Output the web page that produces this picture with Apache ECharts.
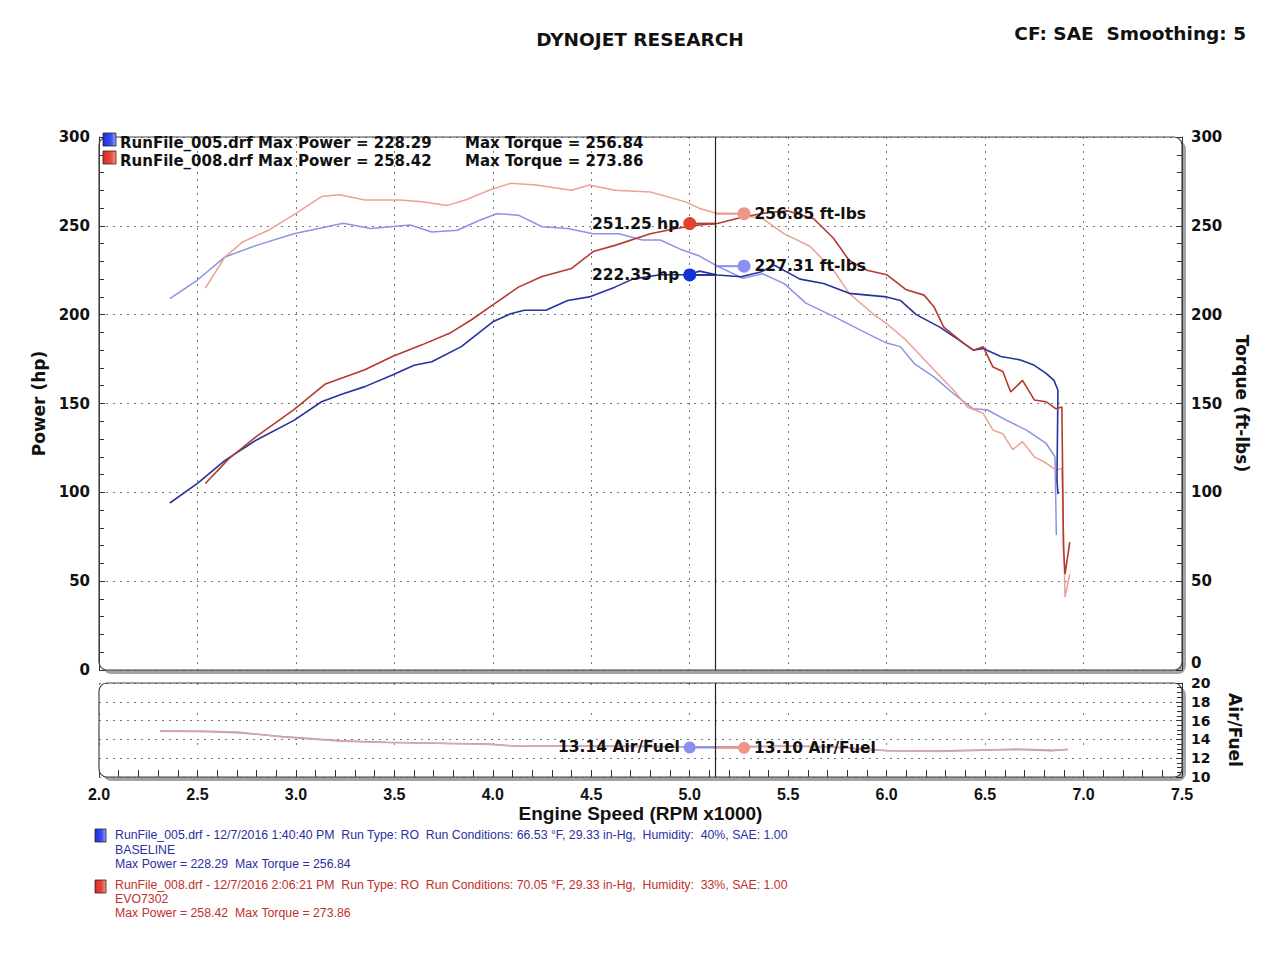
<!DOCTYPE html>
<html>
<head>
<meta charset="utf-8">
<script src="https://cdn.jsdelivr.net/npm/echarts@6/dist/echarts.min.js"></script>
<style>html,body{margin:0;padding:0;background:#fff}#c{width:1280px;height:960px}</style>
</head>
<body>
<div id="c"></div>
<script>
// ---------- DATA ----------
const xTicks = [2.0, 2.5, 3.0, 3.5, 4.0, 4.5, 5.0, 5.5, 6.0, 6.5, 7.0, 7.5];
const cursorRpm = 5.134;

// BASELINE (RunFile_005) power, hp
const basePowerRpm = [2.36, 2.50, 2.64, 2.80, 2.99, 3.13, 3.24, 3.35, 3.49, 3.60, 3.69, 3.84, 4.00, 4.09, 4.16, 4.27, 4.38, 4.49, 4.62, 4.71, 4.85, 4.99, 5.05, 5.14, 5.26, 5.36, 5.43, 5.56, 5.68, 5.81, 6.00, 6.07, 6.15, 6.27, 6.37, 6.44, 6.49, 6.58, 6.68, 6.75, 6.81, 6.85, 6.87, 6.865, 6.87];
const basePowerHp  = [94, 105, 118, 129.5, 140.5, 151, 155.5, 159.5, 166, 171.5, 173.5, 182, 196, 200.5, 202.5, 202.5, 208, 210, 215.5, 220, 222.5, 222.5, 224.5, 222.3, 221.3, 224, 227.8, 220, 217.5, 212, 210, 208, 200, 193, 185.5, 180, 181, 176.5, 174.5, 171.5, 167, 163, 157.5, 107, 99];

// BASELINE torque, ft-lbs
const baseTorqueRpm = [2.36, 2.50, 2.64, 2.80, 2.99, 3.24, 3.38, 3.58, 3.69, 3.82, 3.93, 4.02, 4.13, 4.25, 4.38, 4.51, 4.64, 4.76, 4.85, 4.96, 5.05, 5.14, 5.27, 5.37, 5.48, 5.59, 5.73, 5.90, 6.00, 6.07, 6.14, 6.24, 6.34, 6.44, 6.51, 6.61, 6.71, 6.81, 6.855, 6.862];
const baseTorque    = [209, 219.5, 232.5, 239, 245.5, 251.5, 248.5, 250.5, 246.5, 247.5, 253, 256.8, 256, 249.5, 248.5, 245.5, 245.5, 242, 242, 236.5, 233, 227.3, 220.5, 223, 217.5, 206.5, 199, 189.5, 184, 182, 172.5, 165, 155.5, 147, 146.5, 140.5, 135, 127.5, 120, 76];

// EVO7302 (RunFile_008) power, hp
const evoPowerRpm = [2.54, 2.66, 2.80, 2.99, 3.15, 3.35, 3.49, 3.64, 3.78, 3.89, 4.00, 4.13, 4.25, 4.40, 4.51, 4.62, 4.80, 4.93, 5.05, 5.14, 5.27, 5.40, 5.50, 5.63, 5.73, 5.81, 5.90, 6.00, 6.10, 6.19, 6.24, 6.29, 6.39, 6.44, 6.49, 6.54, 6.59, 6.63, 6.69, 6.75, 6.81, 6.86, 6.89, 6.898, 6.906, 6.93];
const evoPowerHp  = [105, 119, 131.5, 146.5, 161, 169, 176.5, 183, 189.5, 197, 205.5, 215.5, 221.5, 226, 235.5, 239, 245.5, 248.5, 250.5, 251.3, 255, 257.5, 258.4, 254, 243, 230.5, 225, 222.5, 214, 211, 204.5, 193, 184, 180, 182, 170.5, 168, 156.5, 163, 152, 151, 147, 148, 69, 54, 72];

// EVO7302 torque, ft-lbs
const evoTorqueRpm = [2.54, 2.64, 2.73, 2.86, 3.00, 3.13, 3.22, 3.35, 3.53, 3.64, 3.77, 3.86, 3.98, 4.09, 4.22, 4.40, 4.49, 4.62, 4.80, 4.98, 5.05, 5.14, 5.22, 5.37, 5.48, 5.61, 5.73, 5.81, 5.93, 6.00, 6.10, 6.24, 6.34, 6.41, 6.49, 6.54, 6.59, 6.64, 6.69, 6.75, 6.81, 6.86, 6.89, 6.906, 6.93];
const evoTorque    = [215, 232.5, 241, 247.5, 257, 266.5, 267.5, 264.5, 264.5, 263.5, 261.5, 264.5, 270, 273.9, 273, 270, 273, 270, 269, 263.5, 259.8, 256.9, 257, 254, 245.5, 238.5, 225, 212, 200.5, 195, 185.5, 169, 157.5, 148, 144.5, 135, 133, 124, 128.5, 120, 116.5, 112.5, 113.5, 41, 54];

// Air/Fuel
const afRpm  = [2.31, 2.52, 2.71, 2.93, 3.23, 3.46, 3.72, 3.98, 4.12, 4.40, 4.66, 4.96, 5.22, 5.52, 5.71, 5.94, 6.01, 6.27, 6.46, 6.65, 6.84, 6.92];
const baseAf = [14.88, 14.85, 14.72, 14.30, 13.85, 13.70, 13.58, 13.50, 13.28, 13.30, 13.30, 13.22, 13.22, 13.30, 13.22, 12.88, 12.78, 12.76, 12.86, 12.92, 12.80, 12.95];
const evoAf  = [14.90, 14.90, 14.78, 14.25, 13.80, 13.68, 13.60, 13.45, 13.30, 13.28, 13.25, 13.18, 13.15, 13.28, 13.20, 12.90, 12.80, 12.72, 12.82, 12.98, 12.88, 12.90];

// cursor readouts
const hpMarkRpm = 5.0, tqMarkRpm = 5.276;
const readHp = [251.25, 222.35];        // EVO, BASELINE
const readTq = [256.85, 227.31];        // EVO, BASELINE
const readAf = [13.14, 13.10];          // BASELINE, EVO

const topLegend = [
  ["RunFile_005.drf Max Power = 228.29", "Max Torque = 256.84"],
  ["RunFile_008.drf Max Power = 258.42", "Max Torque = 273.86"]
];
const runInfo = [
  ["RunFile_005.drf - 12/7/2016 1:40:40 PM  Run Type: RO  Run Conditions: 66.53 \u00B0F, 29.33 in-Hg,  Humidity:  40%, SAE: 1.00", "BASELINE", "Max Power = 228.29  Max Torque = 256.84"],
  ["RunFile_008.drf - 12/7/2016 2:06:21 PM  Run Type: RO  Run Conditions: 70.05 \u00B0F, 29.33 in-Hg,  Humidity:  33%, SAE: 1.00", "EVO7302", "Max Power = 258.42  Max Torque = 273.86"]
];

// ---------- CHART ----------
const zip = (a, b) => a.map((v, i) => [v, b[i]]);
const F = 'DejaVu Sans';
const C = {
  bluePow: '#26329e', blueTq: '#8e92e4', redPow: '#b53a2e', redTq: '#eba196',
  blueDot: '#1030d8', blueDotL: '#8a90f0', redDot: '#e2412f', redDotL: '#f0958a'
};
const dotted = { color: '#777', type: [2, 5], width: 1 };

const chart = echarts.init(document.getElementById('c'), null, { renderer: 'svg' });

function line(name, x, y, color, xi, yi, w) {
  return { name, type: 'line', xAxisIndex: xi, yAxisIndex: yi, data: zip(x, y), showSymbol: false, symbol: 'none',
    lineStyle: { color, width: w || 1.6 }, itemStyle: { color }, silent: true, animation: false, z: 3 };
}
function conn(x0, x1, v, color, xi, yi) {
  return { type: 'line', xAxisIndex: xi, yAxisIndex: yi, data: [[x0, v], [x1, v]], symbol: 'none',
    lineStyle: { color, width: 2 }, silent: true, animation: false, z: 4 };
}
function dot(x, v, color, label, pos, yi, xi, size) {
  return { type: 'scatter', xAxisIndex: xi, yAxisIndex: yi, data: [[x, v]], symbolSize: size || 13,
    itemStyle: { color, opacity: 1 }, silent: true, animation: false, z: 6,
    label: { show: true, position: pos, distance: 4, formatter: label, color: '#111',
      fontFamily: F, fontWeight: 'bold', fontSize: 15.5 } };
}

const cursorML = { silent: true, symbol: 'none', animation: false, label: { show: false },
  lineStyle: { color: '#222', type: 'solid', width: 1.2 }, data: [{ xAxis: cursorRpm }] };

const bp = line('BASELINE hp', basePowerRpm, basePowerHp, C.bluePow, 0, 0);
bp.markLine = cursorML;
const afB = line('BASELINE AF', afRpm, baseAf, '#9496dc', 1, 2, 1.5);
afB.markLine = cursorML;

const xCommon = { type: 'value', min: 2, max: 7.5, interval: 0.5 };
const leftW = 99, rightX = 1182, W = rightX - leftW;
const infoFont = '12.3px "Liberation Sans"';

chart.setOption({
  backgroundColor: '#fff',
  animation: false,
  title: [
    { text: 'DYNOJET RESEARCH', left: 'center', top: 25, textStyle: { fontFamily: F, fontWeight: 'bold', fontSize: 18.5, color: '#111' } },
    { text: 'CF: SAE  Smoothing: 5', right: 29, top: 19, textStyle: { fontFamily: F, fontWeight: 'bold', fontSize: 18.5, color: '#111' } }
  ],
  grid: [
    { left: leftW, right: 1280 - rightX, top: 137, height: 533 },
    { left: leftW, right: 1280 - rightX, top: 683, height: 94 }
  ],
  xAxis: [
    Object.assign({}, xCommon, { gridIndex: 0, axisLabel: { show: false }, axisLine: { show: false }, axisTick: { show: false },
      splitLine: { show: true, lineStyle: dotted } }),
    Object.assign({}, xCommon, { gridIndex: 1,
      axisLine: { show: false },
      axisTick: { show: true, inside: true, length: 7, lineStyle: { color: '#333' } },
      minorTick: { show: true, splitNumber: 5, length: 7, lineStyle: { color: '#333' } },
      axisLabel: { formatter: v => v.toFixed(1), margin: 9, fontFamily: 'Liberation Sans', fontWeight: 'bold', fontSize: 16, color: '#111' },
      splitLine: { show: true, lineStyle: { color: '#777', type: [2, 28], width: 1 } },
      name: 'Engine Speed (RPM x1000)', nameLocation: 'middle', nameGap: 27,
      nameTextStyle: { fontFamily: 'Liberation Sans', fontWeight: 'bold', fontSize: 19, color: '#111' } })
  ],
  yAxis: [
    { type: 'value', gridIndex: 0, min: 0, max: 300, interval: 50, position: 'left',
      axisLine: { show: true, lineStyle: { color: '#333' } },
      axisTick: { show: true, inside: true, length: 6, lineStyle: { color: '#333' } },
      minorTick: { show: true, splitNumber: 5, length: 5, lineStyle: { color: '#333' } },
      axisLabel: { margin: 9, fontFamily: F, fontWeight: 'bold', fontSize: 15, color: '#111' },
      splitLine: { show: true, lineStyle: dotted },
      name: 'Power (hp)', nameLocation: 'middle', nameGap: 47, nameRotate: 90,
      nameTextStyle: { fontFamily: F, fontWeight: 'bold', fontSize: 17, color: '#111' } },
    { type: 'value', gridIndex: 0, min: 0, max: 300, interval: 50, position: 'right',
      axisLine: { show: true, lineStyle: { color: '#333' } },
      axisTick: { show: true, inside: true, length: 6, lineStyle: { color: '#333' } },
      minorTick: { show: true, splitNumber: 5, length: 5, lineStyle: { color: '#333' } },
      axisLabel: { margin: 9, fontFamily: F, fontWeight: 'bold', fontSize: 15, color: '#111', verticalAlignMinLabel: 'bottom' },
      splitLine: { show: false },
      name: 'Torque (ft-lbs)', nameLocation: 'middle', nameGap: 44, nameRotate: -90,
      nameTextStyle: { fontFamily: F, fontWeight: 'bold', fontSize: 17, color: '#111' } },
    { type: 'value', gridIndex: 1, min: 10, max: 20, interval: 2, position: 'left',
      axisLine: { show: false }, axisTick: { show: false }, axisLabel: { show: false },
      splitLine: { show: true, lineStyle: dotted } },
    { type: 'value', gridIndex: 1, min: 10, max: 20, interval: 2, position: 'right',
      axisLine: { show: true, lineStyle: { color: '#333' } },
      axisTick: { show: true, inside: true, length: 6, lineStyle: { color: '#333' } },
      minorTick: { show: true, splitNumber: 4, length: 5, lineStyle: { color: '#333' } },
      axisLabel: { margin: 9, fontFamily: F, fontWeight: 'bold', fontSize: 14, color: '#111', lineHeight: 10 },
      splitLine: { show: false },
      name: 'Air/Fuel', nameLocation: 'middle', nameGap: 44, nameRotate: -90,
      nameTextStyle: { fontFamily: F, fontWeight: 'bold', fontSize: 17, color: '#111' } }
  ],
  series: [
    line('BASELINE ft-lbs', baseTorqueRpm, baseTorque, C.blueTq, 0, 1, 1.5),
    line('EVO7302 ft-lbs', evoTorqueRpm, evoTorque, C.redTq, 0, 1, 1.5),
    bp,
    line('EVO7302 hp', evoPowerRpm, evoPowerHp, C.redPow, 0, 0),
    afB,
    line('EVO7302 AF', afRpm, evoAf, '#e2a4a4', 1, 2, 1.5),
    conn(hpMarkRpm, cursorRpm, readHp[0], C.redPow, 0, 0),
    conn(hpMarkRpm, cursorRpm, readHp[1], C.bluePow, 0, 0),
    conn(cursorRpm, tqMarkRpm, readTq[0], C.redDotL, 0, 1),
    conn(cursorRpm, tqMarkRpm, readTq[1], C.blueDotL, 0, 1),
    conn(hpMarkRpm, cursorRpm, readAf[0], C.blueDotL, 1, 2),
    conn(cursorRpm, tqMarkRpm, readAf[1], C.redDotL, 1, 2),
    dot(hpMarkRpm, readHp[0], C.redDot, readHp[0].toFixed(2) + ' hp', 'left', 0, 0),
    dot(hpMarkRpm, readHp[1], C.blueDot, readHp[1].toFixed(2) + ' hp', 'left', 0, 0),
    dot(tqMarkRpm, readTq[0], C.redDotL, readTq[0].toFixed(2) + ' ft-lbs', 'right', 1, 0),
    dot(tqMarkRpm, readTq[1], C.blueDotL, readTq[1].toFixed(2) + ' ft-lbs', 'right', 1, 0),
    dot(hpMarkRpm, readAf[0], C.blueDotL, readAf[0].toFixed(2) + ' Air/Fuel', 'left', 2, 1, 12),
    dot(tqMarkRpm, readAf[1], C.redDotL, readAf[1].toFixed(2) + ' Air/Fuel', 'right', 2, 1, 12)
  ],
  graphic: [
    { type: 'rect', z: -20, silent: true, shape: { x: leftW + 4, y: 141, width: W, height: 533, r: 8 }, style: { fill: '#a3a3a3' } },
    { type: 'rect', z: -19, silent: true, shape: { x: leftW, y: 137, width: W, height: 533, r: 8 }, style: { fill: '#fff' } },
    { type: 'rect', z: -20, silent: true, shape: { x: leftW + 4, y: 687, width: W, height: 94, r: 8 }, style: { fill: '#a3a3a3' } },
    { type: 'rect', z: -19, silent: true, shape: { x: leftW, y: 683, width: W, height: 94, r: 8 }, style: { fill: '#fff' } },
    { type: 'rect', z: 50, silent: true, shape: { x: leftW, y: 137, width: W, height: 533, r: 8 }, style: { fill: 'none', stroke: '#444', lineWidth: 1.2 } },
    { type: 'rect', z: 50, silent: true, shape: { x: leftW, y: 683, width: W, height: 94, r: 8 }, style: { fill: 'none', stroke: '#444', lineWidth: 1.2 } },
    // legend swatches (top)
    { type: 'rect', z: 60, silent: true, shape: { x: 103, y: 133, width: 13, height: 13 }, style: { fill: new echarts.graphic.LinearGradient(0, 0, 1, 0, [{ offset: 0, color: '#1c2fe0' }, { offset: 0.6, color: '#3a4cf0' }, { offset: 1, color: '#9aa4f6' }]), stroke: '#223' , lineWidth: 0.8 } },
    { type: 'rect', z: 60, silent: true, shape: { x: 103, y: 151, width: 13, height: 13 }, style: { fill: new echarts.graphic.LinearGradient(0, 0, 1, 0, [{ offset: 0, color: '#d82a22' }, { offset: 0.6, color: '#e8473c' }, { offset: 1, color: '#f39a90' }]), stroke: '#322', lineWidth: 0.8 } },
    { type: 'text', z: 60, silent: true, x: 120, y: 143, style: { text: topLegend[0][0], fill: '#111', font: 'bold 15px "DejaVu Sans"', verticalAlign: 'middle' } },
    { type: 'text', z: 60, silent: true, x: 465, y: 143, style: { text: topLegend[0][1], fill: '#111', font: 'bold 15px "DejaVu Sans"', verticalAlign: 'middle' } },
    { type: 'text', z: 60, silent: true, x: 120, y: 161, style: { text: topLegend[1][0], fill: '#111', font: 'bold 15px "DejaVu Sans"', verticalAlign: 'middle' } },
    { type: 'text', z: 60, silent: true, x: 465, y: 161, style: { text: topLegend[1][1], fill: '#111', font: 'bold 15px "DejaVu Sans"', verticalAlign: 'middle' } },
    // bottom run info
    { type: 'rect', silent: true, shape: { x: 95, y: 829, width: 11, height: 13 }, style: { fill: new echarts.graphic.LinearGradient(0, 0, 1, 0, [{ offset: 0, color: '#1c2fe0' }, { offset: 0.6, color: '#3a4cf0' }, { offset: 1, color: '#9aa4f6' }]), stroke: '#223', lineWidth: 0.8 } },
    { type: 'rect', silent: true, shape: { x: 95, y: 880, width: 11, height: 13 }, style: { fill: new echarts.graphic.LinearGradient(0, 0, 1, 0, [{ offset: 0, color: '#d82a22' }, { offset: 0.6, color: '#e8473c' }, { offset: 1, color: '#f39a90' }]), stroke: '#322', lineWidth: 0.8 } },
    { type: 'text', silent: true, x: 115, y: 835, style: { text: runInfo[0][0], fill: '#2b2fa0', font: infoFont, verticalAlign: 'middle' } },
    { type: 'text', silent: true, x: 115, y: 850, style: { text: runInfo[0][1], fill: '#2b2fa0', font: infoFont, verticalAlign: 'middle' } },
    { type: 'text', silent: true, x: 115, y: 864, style: { text: runInfo[0][2], fill: '#2b2fa0', font: infoFont, verticalAlign: 'middle' } },
    { type: 'text', silent: true, x: 115, y: 885, style: { text: runInfo[1][0], fill: '#c0302c', font: infoFont, verticalAlign: 'middle' } },
    { type: 'text', silent: true, x: 115, y: 899, style: { text: runInfo[1][1], fill: '#c0302c', font: infoFont, verticalAlign: 'middle' } },
    { type: 'text', silent: true, x: 115, y: 913, style: { text: runInfo[1][2], fill: '#c0302c', font: infoFont, verticalAlign: 'middle' } }
  ]
});
</script>
</body>
</html>
